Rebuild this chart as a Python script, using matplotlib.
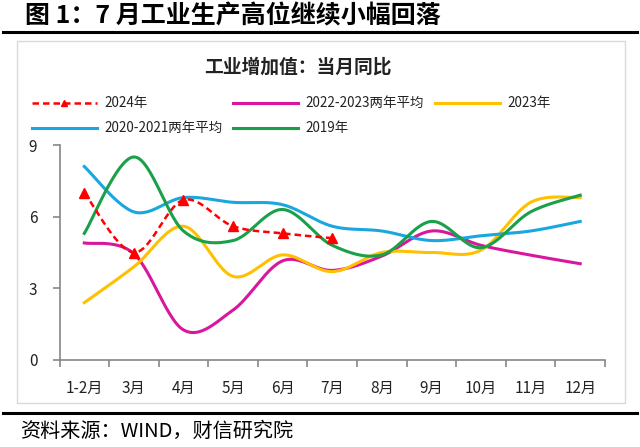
import numpy as np
import matplotlib
matplotlib.use("Agg")
import matplotlib.pyplot as plt
from matplotlib.lines import Line2D
from matplotlib.patches import Rectangle

plt.rcParams['font.family'] = ['Noto Sans CJK SC', 'DejaVu Sans']

months = ["1-2月", "3月", "4月", "5月", "6月", "7月", "8月", "9月", "10月", "11月", "12月"]
y2024 = [7.0, 4.5, 6.7, 5.6, 5.3, 5.1]
y2223 = [4.9, 4.45, 1.26, 2.09, 4.15, 3.75, 4.35, 5.4, 4.8, 4.39, 4.03]
y2023 = [2.4, 3.9, 5.6, 3.5, 4.4, 3.7, 4.5, 4.5, 4.6, 6.6, 6.8]
y2021 = [8.1, 6.2, 6.8, 6.6, 6.5, 5.6, 5.4, 5.0, 5.2, 5.4, 5.8]
y2019 = [5.3, 8.5, 5.4, 5.0, 6.3, 4.8, 4.4, 5.8, 4.7, 6.2, 6.9]
yticks = [0, 3, 6, 9]

labels = ["2024年", "2022-2023两年平均", "2023年", "2020-2021两年平均", "2019年"]
colors = ["#FF0000", "#D8179E", "#FFC000", "#1AA7E0", "#1AA048"]


def smooth(xs, ys, n=30):
    xs = np.asarray(xs, float)
    ys = np.asarray(ys, float)
    P = np.column_stack([xs, ys])
    out = []
    m = len(P)
    for i in range(m - 1):
        p0 = P[i - 1] if i > 0 else P[i]
        p1 = P[i]
        p2 = P[i + 1]
        p3 = P[i + 2] if i + 2 < m else P[i + 1]
        c1 = p1 + (p2 - p0) / 6.0
        c2 = p2 - (p3 - p1) / 6.0
        t = np.linspace(0, 1, n)[:, None]
        seg = ((1 - t) ** 3) * p1 + 3 * ((1 - t) ** 2) * t * c1 + 3 * (1 - t) * t ** 2 * c2 + t ** 3 * p2
        if i > 0:
            seg = seg[1:]
        out.append(seg)
    S = np.vstack(out)
    return S[:, 0], S[:, 1]


W, H = 640, 447
fig = plt.figure(figsize=(6.4, 4.47), dpi=100)

# title
fig.text(25 / W, 1 - 16 / H, "图 1：7 月工业生产高位继续小幅回落", fontsize=18, fontweight='bold',
         ha='left', va='center', color='black')
fig.add_artist(Line2D([3 / W, 637 / W], [1 - 32 / H, 1 - 32 / H], color='black', lw=2.2))
fig.add_artist(Line2D([3 / W, 637 / W], [1 - 413 / H, 1 - 413 / H], color='black', lw=2.2))
fig.text(20 / W, 1 - 431 / H, "资料来源：WIND，财信研究院", fontsize=14.5, style='italic',
         ha='left', va='center', color='black')

# chart box
fig.add_artist(Rectangle((17 / W, 1 - 403 / H), (625 - 17) / W, (403 - 41) / H,
                         fill=False, edgecolor='#D9D9D9', lw=1.0))
fig.text(298 / W, 1 - 67 / H, "工业增加值：当月同比", fontsize=13.5, fontweight='bold',
         ha='center', va='center', color='#222222')

ax = fig.add_axes([59.5 / W, 1 - 360 / H, (605 - 59.5) / W, (360 - 145) / H])
x = np.arange(len(months))
series = [y2024, y2223, y2023, y2021, y2019]
for k in [1, 2, 3, 4, 0]:
    ys = series[k]
    xs = x[:len(ys)]
    sx, sy = smooth(xs, ys)
    if k == 0:
        ax.plot(sx, sy, color=colors[k], lw=1.8, dashes=(2.6, 1.6), zorder=5)
        ax.plot(xs, ys, linestyle='none', marker='^', color=colors[k], markersize=7, zorder=6)
    else:
        ax.plot(sx, sy, color=colors[k], lw=2.2, zorder=3)

ax.set_xlim(-0.5, len(months) - 0.5)
ax.set_ylim(0, 9)
ax.set_yticks(yticks)
ax.set_yticklabels([str(v) for v in yticks])
ax.set_xticks(x)
ax.set_xticklabels(months)
ax.set_xticks(np.arange(-0.5, len(months), 1.0), minor=True)
ax.tick_params(axis='x', which='major', length=0, pad=14, labelsize=11, colors='#222222')
ax.tick_params(axis='x', which='minor', length=5, width=1.2, color='#868686', direction='out')
ax.tick_params(axis='y', which='major', length=5, width=1.2, color='#868686', direction='out',
               labelsize=11, labelcolor='#222222', pad=11)
for s in ['top', 'right']:
    ax.spines[s].set_visible(False)
for s in ['left', 'bottom']:
    ax.spines[s].set_color('#868686')
    ax.spines[s].set_linewidth(1.2)
ax.set_facecolor('none')

# manual legend
pos = [(32, 103), (233, 103), (435, 103), (32, 128), (233, 128)]
for k, (lx, ly) in enumerate(pos):
    yy = 1 - ly / H
    if k == 0:
        fig.add_artist(Line2D([lx / W, (lx + 65) / W], [yy, yy], color=colors[k], lw=1.8, dashes=(2.6, 1.6)))
        fig.add_artist(Line2D([(lx + 32) / W], [yy], color=colors[k], marker='^', markersize=5, linestyle='none'))
    else:
        fig.add_artist(Line2D([lx / W, (lx + 65) / W], [yy, yy], color=colors[k], lw=2.2))
    fig.text((lx + 72) / W, yy, labels[k], fontsize=9.7, ha='left', va='center', color='#222222')

fig.savefig("out.png", dpi=100)
